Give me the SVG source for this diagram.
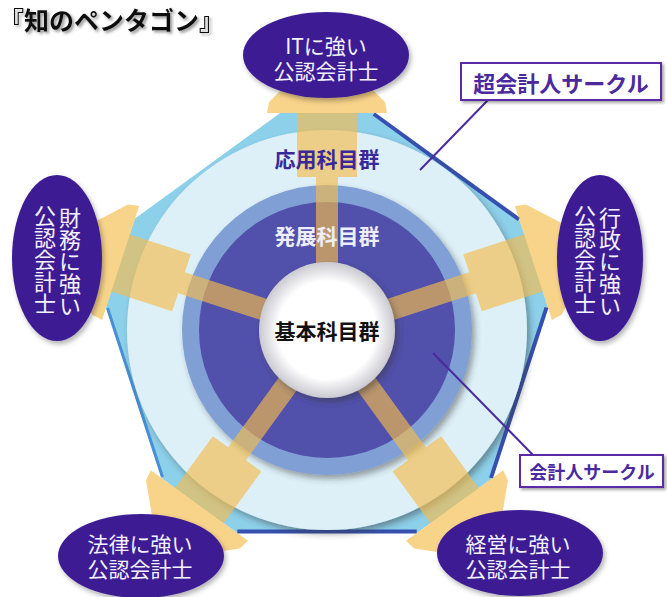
<svg xmlns="http://www.w3.org/2000/svg" width="667" height="597" viewBox="0 0 667 597">
<defs>
<style>
.el{fill:#3c1f93;filter:url(#sh)}
.nt{font-family:"Noto Sans CJK JP","Noto Sans",sans-serif;font-size:21px;fill:#f4f2ff;text-anchor:middle;dominant-baseline:central}
.vt{font-family:"Noto Sans CJK JP","Noto Sans",sans-serif;font-size:22px;fill:#f4f2ff;text-anchor:middle;writing-mode:vertical-rl}
.box{fill:#fff;stroke:#5b2ca6;stroke-width:2;filter:url(#sh2)}
.lt{font-family:"Noto Sans CJK JP","Noto Sans",sans-serif;font-weight:700;fill:#4a2a9e;text-anchor:middle;dominant-baseline:central}
.lead{stroke:#4a2a9e;stroke-width:2;fill:none}
.spoke{fill:#f5bc4b;fill-opacity:0.65}
.ring{font-family:"Noto Sans CJK JP","Noto Sans",sans-serif;font-weight:700;font-size:21px;text-anchor:middle;dominant-baseline:central}
</style>
<filter id="sh" x="-20%" y="-20%" width="140%" height="140%"><feDropShadow dx="2" dy="3" stdDeviation="2.5" flood-color="#000" flood-opacity="0.3"/></filter>
<filter id="sh2" x="-10%" y="-20%" width="120%" height="150%"><feDropShadow dx="2" dy="2" stdDeviation="1.5" flood-color="#000" flood-opacity="0.35"/></filter>
<filter id="sh3" x="-10%" y="-10%" width="120%" height="120%"><feDropShadow dx="3" dy="4" stdDeviation="3" flood-color="#333" flood-opacity="0.45"/></filter>
<filter id="tsh" x="-10%" y="-20%" width="130%" height="160%"><feDropShadow dx="2" dy="2" stdDeviation="1.5" flood-color="#666" flood-opacity="0.7"/></filter>
<radialGradient id="wg"><stop offset="0.72" stop-color="#ffffff"/><stop offset="1" stop-color="#c9c9d0"/></radialGradient>
<path id="sp" d="M-11,-60 L11,-60 L11,-153 L30,-153 L30,-217 L60,-217 L58,-228 L0,-285 L-58,-228 L-60,-217 L-30,-217 L-30,-153 L-11,-153 Z"/>
</defs>
<rect width="667" height="597" fill="#fff"/>

<text x="-1" y="30" font-family="'Noto Sans CJK JP','Noto Sans',sans-serif" font-weight="700" font-size="25" fill="#111" filter="url(#tsh)">『知のペンタゴン』</text>

<g id="pentagon">
<polygon points="280.2,113 373.8,113 518.9,218.4 547.9,307.5 492.5,478 416.7,533.1 237.3,533.1 161.5,478 106.1,307.5 135.1,218.4" fill="#8dd0ea"/>
<polyline points="373.8,114 518.9,219.4" stroke="#3550b0" stroke-width="4" fill="none"/>
<polyline points="546.5,307.5 491,478" stroke="#3550b0" stroke-width="4" fill="none"/>
<polyline points="416.7,531.5 237.3,531.5" stroke="#3550b0" stroke-width="4" fill="none"/>
<polyline points="162.5,477 107.5,308" stroke="#4a8fd4" stroke-width="3" fill="none"/>
</g>

<g id="rings">
<circle cx="327" cy="330" r="200" fill="#ddf0f8" filter="url(#sh3)"/>
<circle cx="327" cy="330" r="145" fill="#7f9fd5" filter="url(#sh3)"/>
<circle cx="327" cy="330" r="128" fill="#5150ab"/>
</g>

<g id="spokes">
<use href="#sp" class="spoke" transform="translate(327,330)"/>
<use href="#sp" class="spoke" transform="translate(327,330) rotate(72)"/>
<use href="#sp" class="spoke" transform="translate(327,330) rotate(144)"/>
<use href="#sp" class="spoke" transform="translate(327,330) rotate(216)"/>
<use href="#sp" class="spoke" transform="translate(327,330) rotate(288)"/>
</g>

<g id="core">
<circle cx="327" cy="330" r="68" fill="url(#wg)" filter="url(#sh3)"/>
<text class="ring" x="327" y="330" fill="#111">基本科目群</text>
</g>
<text class="ring" x="327" y="235" fill="#eeeefa" font-weight="400">発展科目群</text>
<text class="ring" x="327" y="158" fill="#3a2898">応用科目群</text>

<g id="connectors">
<line class="lead" x1="488" y1="100" x2="420" y2="170"/>
<line class="lead" x1="533" y1="455" x2="433" y2="353"/>
</g>

<g id="label-super">
<rect class="box" x="461" y="63" width="200" height="37"/>
<text class="lt" x="561" y="82" font-size="22">超会計人サークル</text>
</g>
<g id="label-circle">
<rect class="box" x="520" y="455" width="143" height="32"/>
<text class="lt" x="592" y="471" font-size="18">会計人サークル</text>
</g>

<g id="node-it">
<ellipse class="el" cx="326" cy="55" rx="83" ry="43"/>
<text class="nt" x="326" y="45">ITに強い<tspan x="326" dy="25">公認会計士</tspan></text>
</g>
<g id="node-finance">
<ellipse class="el" cx="57" cy="258" rx="45" ry="83"/>
<text class="vt" x="70" y="262">財務に強い</text>
<text class="vt" x="45" y="260">公認会計士</text>
</g>
<g id="node-admin">
<ellipse class="el" cx="600" cy="258" rx="43" ry="83"/>
<text class="vt" x="610" y="262">行政に強い</text>
<text class="vt" x="585" y="260">公認会計士</text>
</g>
<g id="node-law">
<ellipse class="el" cx="141" cy="556" rx="83" ry="42"/>
<text class="nt" x="140" y="543">法律に強い<tspan x="140" dy="25">公認会計士</tspan></text>
</g>
<g id="node-mgmt">
<ellipse class="el" cx="520" cy="553" rx="83" ry="43"/>
<text class="nt" x="518" y="543">経営に強い<tspan x="518" dy="25">公認会計士</tspan></text>
</g>
</svg>
